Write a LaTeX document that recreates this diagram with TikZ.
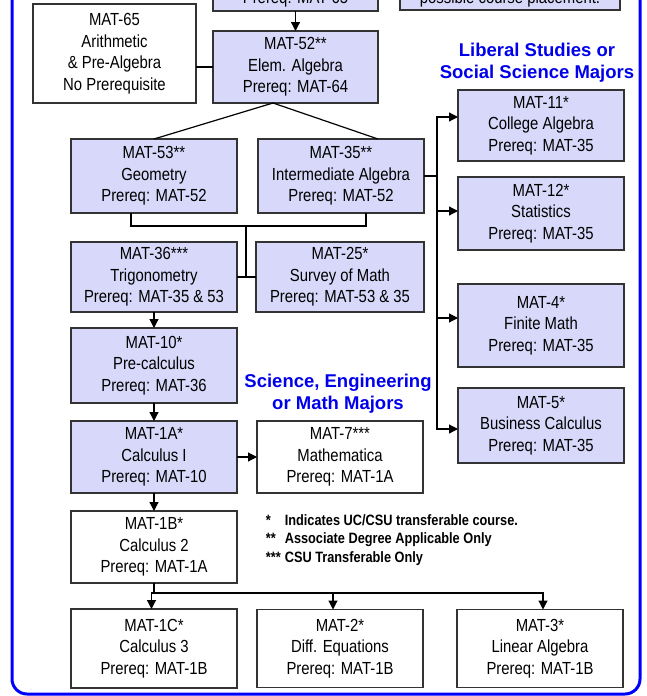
\documentclass[tikz,border=0pt]{standalone}
\usepackage{fontspec}
\setmainfont{Liberation Sans}
\newfontfamily\condensedfont{Liberation Sans}[FakeStretch=0.85]
\usetikzlibrary{arrows.meta,positioning}
\definecolor{lavender}{RGB}{216,216,250}
\definecolor{edgegray}{RGB}{51,51,51}
\definecolor{majorblue}{RGB}{0,0,235}

\begin{document}
\begin{tikzpicture}[x=1pt,y=1pt,>={Triangle[length=9pt,width=9pt]},line width=1.2pt,
        course/.style={draw=edgegray,line width=1.3pt,fill=white,minimum width=166pt,
          minimum height=72pt,inner sep=0pt,outer sep=0pt,align=center,
          font=\condensedfont\fontsize{17.5}{21.5}\selectfont},
        core/.style={course,fill=lavender},
        major/.style={text=majorblue,align=center,font=\bfseries\fontsize{18.5}{22}\selectfont}]
  \useasboundingbox (0,0) rectangle (647,-696);
  \clip (0,0) rectangle (647,-696);
  \draw[blue,line width=3pt,rounded corners=15pt] (12,40) rectangle (640,-694);

  \node[core,anchor=south,minimum width=165pt,text height=80pt,text depth=7pt] (m64) at (295.5,-11) {Prereq: MAT-65};
  \node[core,anchor=south,minimum width=220pt,text height=80pt,text depth=7pt] (place) at (510,-10) {possible course placement.};
  \node[course,minimum width=163pt,minimum height=99pt] (m65) at (114.5,-53.5) {MAT-65\\Arithmetic\\\& Pre-Algebra\\No Prerequisite};
  \node[core,minimum width=165pt] (m52) at (295.5,-67) {MAT-52**\\Elem. Algebra\\Prereq: MAT-64};
  \node[core,minimum height=74pt] (m53) at (154,-176) {MAT-53**\\Geometry\\Prereq: MAT-52};
  \node[core,minimum height=74pt] (m35) [right=21pt of m53] {MAT-35**\\Intermediate Algebra\\Prereq: MAT-52};
  \node[core,minimum height=70pt] (m36) [below=29pt of m53] {MAT-36***\\Trigonometry\\Prereq: MAT-35 \& 53};
  \node[core,minimum width=168pt,minimum height=70pt] (m25) [right=19pt of m36] {MAT-25*\\Survey of Math\\Prereq: MAT-53 \& 35};
  \node[core,minimum height=75pt] (m10) [below=16pt of m36] {MAT-10*\\Pre-calculus\\Prereq: MAT-36};
  \node[core] (m1a) [below=18pt of m10] {MAT-1A*\\Calculus I\\Prereq: MAT-10};
  \node[course] (m7) [right=20pt of m1a] {MAT-7***\\Mathematica\\Prereq: MAT-1A};
  \node[course] (m1b) [below=18pt of m1a] {MAT-1B*\\Calculus 2\\Prereq: MAT-1A};
  \node[course,minimum height=79pt] (m1c) [below=26pt of m1b] {MAT-1C*\\Calculus 3\\Prereq: MAT-1B};
  \node[course,minimum height=78pt] (m2) [right=20pt of m1c] {MAT-2*\\Diff. Equations\\Prereq: MAT-1B};
  \node[course,minimum height=78pt] (m3) [right=34pt of m2] {MAT-3*\\Linear Algebra\\Prereq: MAT-1B};

  \node[core,minimum height=71pt] (m11) at (541,-125.5) {MAT-11*\\College Algebra\\Prereq: MAT-35};
  \node[core,minimum height=73pt] (m12) [below=16pt of m11] {MAT-12*\\Statistics\\Prereq: MAT-35};
  \node[core,minimum height=83pt] (m4) [below=34pt of m12] {MAT-4*\\Finite Math\\Prereq: MAT-35};
  \node[core,minimum height=75pt] (m5) [below=21pt of m4] {MAT-5*\\Business Calculus\\Prereq: MAT-35};

  \node[major] (liberal) at (537,-63) {Liberal Studies or\\Social Science Majors};
  \node[major] (science) at (338,-394) {Science, Engineering\\or Math Majors};
  \node[anchor=west,font=\condensedfont\bfseries\fontsize{15}{18.5}\selectfont] (legend) at (262,-540)
    {\begin{tabular}{@{}l@{\hspace{4pt}}l@{}}
      {*} & Indicates UC/CSU transferable course.\\
      {**} & Associate Degree Applicable Only\\
      {***} & CSU Transferable Only
    \end{tabular}};

  \coordinate (join) at (246,-226);
  \coordinate (lsbus) at ([xshift=13pt]m35.east);

  \draw[->] (m64) -- (m52);
  \draw (m52.west -| m65.east) -- (m52.west);
  \draw ([xshift=-22.5pt]m52.south) -- (m53.north)
        ([xshift=-22.5pt]m52.south) -- ([xshift=37pt]m35.north);
  \draw ([xshift=-23pt]m53.south) |- (join) -| ([xshift=25pt]m35.south);
  \draw (join) -- (join |- m36.east);
  \draw (m36.east) -- (m25.west);
  \draw (m35.east) -- (lsbus);
  \foreach \n/\dy in {m11/8.5,m12/2.5,m4/7.5,m5/-3.5}
    \draw[->] (lsbus) |- ([yshift=\dy pt]\n.west);
  \draw[->] (m36) -- (m10);
  \draw[->] (m10) -- (m1a);
  \draw[->] (m1a) -- (m1b);
  \draw[->] (m1a) -- (m7);
  \foreach \n/\dx in {m1c/-2.5,m2/-7,m3/3}
    \draw[->] (m1b.south) -- ++(0,-10) -| ([xshift=\dx pt]\n.north);
\end{tikzpicture}
\end{document}
